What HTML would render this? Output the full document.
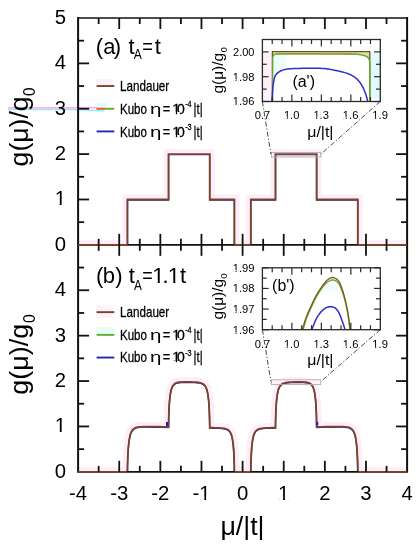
<!DOCTYPE html><html><head><meta charset="utf-8"><style>html,body{margin:0;padding:0;background:#fff;}svg{display:block;will-change:transform}text{font-family:"Liberation Sans",sans-serif;fill:#000}</style></head><body>
<svg width="420" height="550" viewBox="0 0 420 550">
<defs>
<clipPath id="ca"><rect x="78.1" y="18.0" width="329.0" height="226.85"/></clipPath>
<clipPath id="cb"><rect x="78.1" y="244.85" width="329.0" height="227.00000000000003"/></clipPath>
</defs>
<rect width="420" height="550" fill="#fff"/>
<line x1="8" y1="107.9" x2="97" y2="107.9" stroke="#ff5cf0" stroke-width="0.9"/>
<path d="M8,109.7 L78.6,109.7 L104.3,111.1" fill="none" stroke="#5ce8ea" stroke-width="0.9"/>
<rect x="96" y="79" width="17.5" height="6" fill="#fdf0f9"/>
<rect x="97" y="103" width="10" height="3.5" fill="#e2fafa"/>
<rect x="96" y="305" width="17.5" height="13" fill="#fef3fa"/>
<rect x="96" y="327" width="17.5" height="6.5" fill="#e8fbfa"/>
<g clip-path="url(#ca)">
<path d="M78.10,244.85 L127.45,244.85 L127.45,199.48 L168.57,199.48 L168.57,154.11 L209.70,154.11 L209.70,199.48 L234.38,199.48 L234.38,244.85 L250.82,244.85 L250.82,199.48 L275.50,199.48 L275.50,154.11 L316.62,154.11 L316.62,199.48 L357.75,199.48 L357.75,244.85 L407.10,244.85" fill="none" stroke="#fdeefa" stroke-width="10"/>
<path d="M78.10,244.85 L127.45,244.85 L127.45,199.48 L168.57,199.48 L168.57,154.11 L209.70,154.11 L209.70,199.48 L234.38,199.48 L234.38,244.85 L250.82,244.85 L250.82,199.48 L275.50,199.48 L275.50,154.11 L316.62,154.11 L316.62,199.48 L357.75,199.48 L357.75,244.85 L407.10,244.85 L407.1,244.85 L78.1,244.85 Z" fill="#fff"/>
<rect x="271.39" y="152.5" width="49.35" height="4.5" fill="#fdf0f9"/>
<path d="M78.10,244.85 L127.45,244.85 L127.45,199.48 L168.57,199.48 L168.57,154.11 L209.70,154.11 L209.70,199.48 L234.38,199.48 L234.38,244.85 L250.82,244.85 L250.82,199.48 L275.50,199.48 L275.50,154.11 L316.62,154.11 L316.62,199.48 L357.75,199.48 L357.75,244.85 L407.10,244.85" fill="none" stroke="#2626b0" stroke-width="1.4" transform="translate(0,0.5)"/>
<path d="M78.10,244.85 L127.45,244.85 L127.45,199.48 L168.57,199.48 L168.57,154.11 L209.70,154.11 L209.70,199.48 L234.38,199.48 L234.38,244.85 L250.82,244.85 L250.82,199.48 L275.50,199.48 L275.50,154.11 L316.62,154.11 L316.62,199.48 L357.75,199.48 L357.75,244.85 L407.10,244.85" fill="none" stroke="#7a4526" stroke-width="1.8"/>
</g>
<g clip-path="url(#cb)">
<path d="M78.10,471.85 L84.27,471.85 L90.44,471.85 L96.61,471.85 L102.78,471.85 L108.94,471.85 L115.11,471.85 L121.28,471.85 L127.45,471.85 L127.45,471.85 L127.45,471.30 L127.46,470.95 L127.46,470.40 L127.47,469.52 L127.49,468.13 L127.53,465.96 L127.57,464.20 L127.61,462.67 L127.69,460.09 L127.77,457.91 L127.85,456.01 L127.93,454.33 L128.09,451.46 L128.25,449.05 L128.41,447.00 L128.57,445.22 L128.74,443.66 L129.06,441.05 L129.38,438.95 L129.70,437.23 L130.02,435.81 L130.34,434.61 L130.66,433.60 L131.31,432.00 L131.95,430.80 L132.59,429.90 L133.88,428.67 L135.16,427.91 L136.45,427.44 L137.73,427.13 L140.30,426.81 L142.87,426.67 L148.01,426.63 L153.15,426.68 L158.29,426.75 L163.43,426.84 L168.57,426.92 L168.57,426.92 L168.58,426.33 L168.58,425.97 L168.59,425.38 L168.60,424.45 L168.62,422.98 L168.66,420.69 L168.70,418.83 L168.74,417.24 L168.82,414.53 L168.90,412.27 L168.98,410.31 L169.06,408.58 L169.22,405.63 L169.38,403.19 L169.54,401.11 L169.70,399.33 L169.86,397.77 L170.18,395.18 L170.50,393.13 L170.82,391.47 L171.15,390.10 L171.47,388.96 L171.79,388.01 L172.43,386.52 L173.07,385.43 L173.72,384.61 L175.00,383.53 L176.29,382.89 L178.86,382.25 L184.00,381.92 L189.14,381.94 L194.28,382.10 L196.85,382.27 L199.42,382.60 L201.99,383.33 L203.27,384.01 L204.56,385.14 L205.20,385.98 L205.84,387.09 L206.49,388.60 L206.81,389.57 L207.13,390.72 L207.45,392.10 L207.77,393.77 L208.09,395.84 L208.41,398.43 L208.58,400.00 L208.74,401.79 L208.90,403.87 L209.06,406.32 L209.22,409.27 L209.30,411.00 L209.38,412.97 L209.46,415.24 L209.54,417.94 L209.58,419.54 L209.62,421.40 L209.66,423.69 L209.68,425.16 L209.69,426.09 L209.69,426.68 L209.70,427.04 L209.70,427.63 L209.70,427.63 L212.78,427.70 L215.87,427.78 L218.95,427.90 L222.04,428.12 L225.12,428.61 L226.66,429.10 L228.21,429.94 L228.98,430.59 L229.75,431.48 L230.52,432.74 L230.91,433.56 L231.29,434.55 L231.68,435.77 L232.06,437.28 L232.45,439.18 L232.64,440.33 L232.83,441.63 L233.03,443.13 L233.22,444.87 L233.41,446.92 L233.60,449.37 L233.70,450.78 L233.80,452.36 L233.89,454.14 L233.99,456.17 L234.09,458.54 L234.18,461.39 L234.23,463.09 L234.28,465.08 L234.30,466.23 L234.33,467.55 L234.35,469.15 L234.36,470.17 L234.37,470.81 L234.37,471.20 L234.38,471.85 L234.38,471.85 L236.43,471.85 L238.49,471.85 L240.54,471.85 L242.60,471.85 L244.66,471.85 L246.71,471.85 L248.77,471.85 L250.82,471.85 L250.82,471.85 L250.83,471.20 L250.83,470.81 L250.84,470.17 L250.85,469.15 L250.87,467.55 L250.90,466.23 L250.92,465.08 L250.97,463.09 L251.02,461.39 L251.11,458.54 L251.21,456.17 L251.31,454.14 L251.40,452.36 L251.50,450.78 L251.60,449.37 L251.79,446.92 L251.98,444.87 L252.17,443.13 L252.37,441.63 L252.56,440.33 L252.75,439.18 L253.14,437.28 L253.52,435.77 L253.91,434.55 L254.29,433.56 L254.68,432.74 L255.45,431.48 L256.22,430.59 L256.99,429.94 L258.54,429.10 L260.08,428.61 L263.16,428.12 L266.25,427.90 L269.33,427.78 L272.42,427.70 L275.50,427.63 L275.50,427.63 L275.50,427.04 L275.51,426.68 L275.51,426.09 L275.52,425.16 L275.54,423.69 L275.58,421.40 L275.62,419.54 L275.66,417.94 L275.74,415.24 L275.82,412.97 L275.90,411.00 L275.98,409.27 L276.14,406.32 L276.30,403.87 L276.46,401.79 L276.62,400.00 L276.79,398.43 L277.11,395.84 L277.43,393.77 L277.75,392.10 L278.07,390.72 L278.39,389.57 L278.71,388.60 L279.36,387.09 L280.00,385.98 L280.64,385.14 L281.93,384.01 L283.21,383.33 L285.78,382.60 L288.35,382.27 L290.92,382.10 L296.06,381.94 L301.20,381.92 L306.34,382.25 L308.91,382.89 L310.20,383.53 L311.48,384.61 L312.13,385.43 L312.77,386.52 L313.41,388.01 L313.73,388.96 L314.05,390.10 L314.38,391.47 L314.70,393.13 L315.02,395.18 L315.34,397.77 L315.50,399.33 L315.66,401.11 L315.82,403.19 L315.98,405.63 L316.14,408.58 L316.22,410.31 L316.30,412.27 L316.38,414.53 L316.46,417.24 L316.50,418.83 L316.54,420.69 L316.58,422.98 L316.60,424.45 L316.61,425.38 L316.62,425.97 L316.62,426.33 L316.62,426.92 L316.62,426.92 L321.77,426.84 L326.91,426.75 L332.05,426.68 L337.19,426.63 L342.33,426.67 L344.90,426.81 L347.47,427.13 L348.75,427.44 L350.04,427.91 L351.32,428.67 L352.61,429.90 L353.25,430.80 L353.89,432.00 L354.54,433.60 L354.86,434.61 L355.18,435.81 L355.50,437.23 L355.82,438.95 L356.14,441.05 L356.46,443.66 L356.63,445.22 L356.79,447.00 L356.95,449.05 L357.11,451.46 L357.27,454.33 L357.35,456.01 L357.43,457.91 L357.51,460.09 L357.59,462.67 L357.63,464.20 L357.67,465.96 L357.71,468.13 L357.73,469.52 L357.74,470.40 L357.74,470.95 L357.75,471.30 L357.75,471.85 L357.75,471.85 L363.92,471.85 L370.09,471.85 L376.26,471.85 L382.42,471.85 L388.59,471.85 L394.76,471.85 L400.93,471.85 L407.10,471.85" fill="none" stroke="#fdeefa" stroke-width="10"/>
<path d="M78.10,471.85 L84.27,471.85 L90.44,471.85 L96.61,471.85 L102.78,471.85 L108.94,471.85 L115.11,471.85 L121.28,471.85 L127.45,471.85 L127.45,471.85 L127.45,471.30 L127.46,470.95 L127.46,470.40 L127.47,469.52 L127.49,468.13 L127.53,465.96 L127.57,464.20 L127.61,462.67 L127.69,460.09 L127.77,457.91 L127.85,456.01 L127.93,454.33 L128.09,451.46 L128.25,449.05 L128.41,447.00 L128.57,445.22 L128.74,443.66 L129.06,441.05 L129.38,438.95 L129.70,437.23 L130.02,435.81 L130.34,434.61 L130.66,433.60 L131.31,432.00 L131.95,430.80 L132.59,429.90 L133.88,428.67 L135.16,427.91 L136.45,427.44 L137.73,427.13 L140.30,426.81 L142.87,426.67 L148.01,426.63 L153.15,426.68 L158.29,426.75 L163.43,426.84 L168.57,426.92 L168.57,426.92 L168.58,426.33 L168.58,425.97 L168.59,425.38 L168.60,424.45 L168.62,422.98 L168.66,420.69 L168.70,418.83 L168.74,417.24 L168.82,414.53 L168.90,412.27 L168.98,410.31 L169.06,408.58 L169.22,405.63 L169.38,403.19 L169.54,401.11 L169.70,399.33 L169.86,397.77 L170.18,395.18 L170.50,393.13 L170.82,391.47 L171.15,390.10 L171.47,388.96 L171.79,388.01 L172.43,386.52 L173.07,385.43 L173.72,384.61 L175.00,383.53 L176.29,382.89 L178.86,382.25 L184.00,381.92 L189.14,381.94 L194.28,382.10 L196.85,382.27 L199.42,382.60 L201.99,383.33 L203.27,384.01 L204.56,385.14 L205.20,385.98 L205.84,387.09 L206.49,388.60 L206.81,389.57 L207.13,390.72 L207.45,392.10 L207.77,393.77 L208.09,395.84 L208.41,398.43 L208.58,400.00 L208.74,401.79 L208.90,403.87 L209.06,406.32 L209.22,409.27 L209.30,411.00 L209.38,412.97 L209.46,415.24 L209.54,417.94 L209.58,419.54 L209.62,421.40 L209.66,423.69 L209.68,425.16 L209.69,426.09 L209.69,426.68 L209.70,427.04 L209.70,427.63 L209.70,427.63 L212.78,427.70 L215.87,427.78 L218.95,427.90 L222.04,428.12 L225.12,428.61 L226.66,429.10 L228.21,429.94 L228.98,430.59 L229.75,431.48 L230.52,432.74 L230.91,433.56 L231.29,434.55 L231.68,435.77 L232.06,437.28 L232.45,439.18 L232.64,440.33 L232.83,441.63 L233.03,443.13 L233.22,444.87 L233.41,446.92 L233.60,449.37 L233.70,450.78 L233.80,452.36 L233.89,454.14 L233.99,456.17 L234.09,458.54 L234.18,461.39 L234.23,463.09 L234.28,465.08 L234.30,466.23 L234.33,467.55 L234.35,469.15 L234.36,470.17 L234.37,470.81 L234.37,471.20 L234.38,471.85 L234.38,471.85 L236.43,471.85 L238.49,471.85 L240.54,471.85 L242.60,471.85 L244.66,471.85 L246.71,471.85 L248.77,471.85 L250.82,471.85 L250.82,471.85 L250.83,471.20 L250.83,470.81 L250.84,470.17 L250.85,469.15 L250.87,467.55 L250.90,466.23 L250.92,465.08 L250.97,463.09 L251.02,461.39 L251.11,458.54 L251.21,456.17 L251.31,454.14 L251.40,452.36 L251.50,450.78 L251.60,449.37 L251.79,446.92 L251.98,444.87 L252.17,443.13 L252.37,441.63 L252.56,440.33 L252.75,439.18 L253.14,437.28 L253.52,435.77 L253.91,434.55 L254.29,433.56 L254.68,432.74 L255.45,431.48 L256.22,430.59 L256.99,429.94 L258.54,429.10 L260.08,428.61 L263.16,428.12 L266.25,427.90 L269.33,427.78 L272.42,427.70 L275.50,427.63 L275.50,427.63 L275.50,427.04 L275.51,426.68 L275.51,426.09 L275.52,425.16 L275.54,423.69 L275.58,421.40 L275.62,419.54 L275.66,417.94 L275.74,415.24 L275.82,412.97 L275.90,411.00 L275.98,409.27 L276.14,406.32 L276.30,403.87 L276.46,401.79 L276.62,400.00 L276.79,398.43 L277.11,395.84 L277.43,393.77 L277.75,392.10 L278.07,390.72 L278.39,389.57 L278.71,388.60 L279.36,387.09 L280.00,385.98 L280.64,385.14 L281.93,384.01 L283.21,383.33 L285.78,382.60 L288.35,382.27 L290.92,382.10 L296.06,381.94 L301.20,381.92 L306.34,382.25 L308.91,382.89 L310.20,383.53 L311.48,384.61 L312.13,385.43 L312.77,386.52 L313.41,388.01 L313.73,388.96 L314.05,390.10 L314.38,391.47 L314.70,393.13 L315.02,395.18 L315.34,397.77 L315.50,399.33 L315.66,401.11 L315.82,403.19 L315.98,405.63 L316.14,408.58 L316.22,410.31 L316.30,412.27 L316.38,414.53 L316.46,417.24 L316.50,418.83 L316.54,420.69 L316.58,422.98 L316.60,424.45 L316.61,425.38 L316.62,425.97 L316.62,426.33 L316.62,426.92 L316.62,426.92 L321.77,426.84 L326.91,426.75 L332.05,426.68 L337.19,426.63 L342.33,426.67 L344.90,426.81 L347.47,427.13 L348.75,427.44 L350.04,427.91 L351.32,428.67 L352.61,429.90 L353.25,430.80 L353.89,432.00 L354.54,433.60 L354.86,434.61 L355.18,435.81 L355.50,437.23 L355.82,438.95 L356.14,441.05 L356.46,443.66 L356.63,445.22 L356.79,447.00 L356.95,449.05 L357.11,451.46 L357.27,454.33 L357.35,456.01 L357.43,457.91 L357.51,460.09 L357.59,462.67 L357.63,464.20 L357.67,465.96 L357.71,468.13 L357.73,469.52 L357.74,470.40 L357.74,470.95 L357.75,471.30 L357.75,471.85 L357.75,471.85 L363.92,471.85 L370.09,471.85 L376.26,471.85 L382.42,471.85 L388.59,471.85 L394.76,471.85 L400.93,471.85 L407.10,471.85 L407.1,471.85 L78.1,471.85 Z" fill="#fff"/>
<rect x="271.39" y="379.8" width="49.35" height="4.8" fill="#fef4fa"/>
<path d="M78.10,471.85 L84.27,471.85 L90.44,471.85 L96.61,471.85 L102.78,471.85 L108.94,471.85 L115.11,471.85 L121.28,471.85 L127.45,471.85 L127.45,471.85 L127.45,471.30 L127.46,470.95 L127.46,470.40 L127.47,469.52 L127.49,468.13 L127.53,465.96 L127.57,464.20 L127.61,462.67 L127.69,460.09 L127.77,457.91 L127.85,456.01 L127.93,454.33 L128.09,451.46 L128.25,449.05 L128.41,447.00 L128.57,445.22 L128.74,443.66 L129.06,441.05 L129.38,438.95 L129.70,437.23 L130.02,435.81 L130.34,434.61 L130.66,433.60 L131.31,432.00 L131.95,430.80 L132.59,429.90 L133.88,428.67 L135.16,427.91 L136.45,427.44 L137.73,427.13 L140.30,426.81 L142.87,426.67 L148.01,426.63 L153.15,426.68 L158.29,426.75 L163.43,426.84 L168.57,426.92 L168.57,426.92 L168.58,426.33 L168.58,425.97 L168.59,425.38 L168.60,424.45 L168.62,422.98 L168.66,420.69 L168.70,418.83 L168.74,417.24 L168.82,414.53 L168.90,412.27 L168.98,410.31 L169.06,408.58 L169.22,405.63 L169.38,403.19 L169.54,401.11 L169.70,399.33 L169.86,397.77 L170.18,395.18 L170.50,393.13 L170.82,391.47 L171.15,390.10 L171.47,388.96 L171.79,388.01 L172.43,386.52 L173.07,385.43 L173.72,384.61 L175.00,383.53 L176.29,382.89 L178.86,382.25 L184.00,381.92 L189.14,381.94 L194.28,382.10 L196.85,382.27 L199.42,382.60 L201.99,383.33 L203.27,384.01 L204.56,385.14 L205.20,385.98 L205.84,387.09 L206.49,388.60 L206.81,389.57 L207.13,390.72 L207.45,392.10 L207.77,393.77 L208.09,395.84 L208.41,398.43 L208.58,400.00 L208.74,401.79 L208.90,403.87 L209.06,406.32 L209.22,409.27 L209.30,411.00 L209.38,412.97 L209.46,415.24 L209.54,417.94 L209.58,419.54 L209.62,421.40 L209.66,423.69 L209.68,425.16 L209.69,426.09 L209.69,426.68 L209.70,427.04 L209.70,427.63 L209.70,427.63 L212.78,427.70 L215.87,427.78 L218.95,427.90 L222.04,428.12 L225.12,428.61 L226.66,429.10 L228.21,429.94 L228.98,430.59 L229.75,431.48 L230.52,432.74 L230.91,433.56 L231.29,434.55 L231.68,435.77 L232.06,437.28 L232.45,439.18 L232.64,440.33 L232.83,441.63 L233.03,443.13 L233.22,444.87 L233.41,446.92 L233.60,449.37 L233.70,450.78 L233.80,452.36 L233.89,454.14 L233.99,456.17 L234.09,458.54 L234.18,461.39 L234.23,463.09 L234.28,465.08 L234.30,466.23 L234.33,467.55 L234.35,469.15 L234.36,470.17 L234.37,470.81 L234.37,471.20 L234.38,471.85 L234.38,471.85 L236.43,471.85 L238.49,471.85 L240.54,471.85 L242.60,471.85 L244.66,471.85 L246.71,471.85 L248.77,471.85 L250.82,471.85 L250.82,471.85 L250.83,471.20 L250.83,470.81 L250.84,470.17 L250.85,469.15 L250.87,467.55 L250.90,466.23 L250.92,465.08 L250.97,463.09 L251.02,461.39 L251.11,458.54 L251.21,456.17 L251.31,454.14 L251.40,452.36 L251.50,450.78 L251.60,449.37 L251.79,446.92 L251.98,444.87 L252.17,443.13 L252.37,441.63 L252.56,440.33 L252.75,439.18 L253.14,437.28 L253.52,435.77 L253.91,434.55 L254.29,433.56 L254.68,432.74 L255.45,431.48 L256.22,430.59 L256.99,429.94 L258.54,429.10 L260.08,428.61 L263.16,428.12 L266.25,427.90 L269.33,427.78 L272.42,427.70 L275.50,427.63 L275.50,427.63 L275.50,427.04 L275.51,426.68 L275.51,426.09 L275.52,425.16 L275.54,423.69 L275.58,421.40 L275.62,419.54 L275.66,417.94 L275.74,415.24 L275.82,412.97 L275.90,411.00 L275.98,409.27 L276.14,406.32 L276.30,403.87 L276.46,401.79 L276.62,400.00 L276.79,398.43 L277.11,395.84 L277.43,393.77 L277.75,392.10 L278.07,390.72 L278.39,389.57 L278.71,388.60 L279.36,387.09 L280.00,385.98 L280.64,385.14 L281.93,384.01 L283.21,383.33 L285.78,382.60 L288.35,382.27 L290.92,382.10 L296.06,381.94 L301.20,381.92 L306.34,382.25 L308.91,382.89 L310.20,383.53 L311.48,384.61 L312.13,385.43 L312.77,386.52 L313.41,388.01 L313.73,388.96 L314.05,390.10 L314.38,391.47 L314.70,393.13 L315.02,395.18 L315.34,397.77 L315.50,399.33 L315.66,401.11 L315.82,403.19 L315.98,405.63 L316.14,408.58 L316.22,410.31 L316.30,412.27 L316.38,414.53 L316.46,417.24 L316.50,418.83 L316.54,420.69 L316.58,422.98 L316.60,424.45 L316.61,425.38 L316.62,425.97 L316.62,426.33 L316.62,426.92 L316.62,426.92 L321.77,426.84 L326.91,426.75 L332.05,426.68 L337.19,426.63 L342.33,426.67 L344.90,426.81 L347.47,427.13 L348.75,427.44 L350.04,427.91 L351.32,428.67 L352.61,429.90 L353.25,430.80 L353.89,432.00 L354.54,433.60 L354.86,434.61 L355.18,435.81 L355.50,437.23 L355.82,438.95 L356.14,441.05 L356.46,443.66 L356.63,445.22 L356.79,447.00 L356.95,449.05 L357.11,451.46 L357.27,454.33 L357.35,456.01 L357.43,457.91 L357.51,460.09 L357.59,462.67 L357.63,464.20 L357.67,465.96 L357.71,468.13 L357.73,469.52 L357.74,470.40 L357.74,470.95 L357.75,471.30 L357.75,471.85 L357.75,471.85 L363.92,471.85 L370.09,471.85 L376.26,471.85 L382.42,471.85 L388.59,471.85 L394.76,471.85 L400.93,471.85 L407.10,471.85" fill="none" stroke="#2626b0" stroke-width="1.4" transform="translate(0,0.5)"/>
<path d="M78.10,471.85 L84.27,471.85 L90.44,471.85 L96.61,471.85 L102.78,471.85 L108.94,471.85 L115.11,471.85 L121.28,471.85 L127.45,471.85 L127.45,471.85 L127.45,471.30 L127.46,470.95 L127.46,470.40 L127.47,469.52 L127.49,468.13 L127.53,465.96 L127.57,464.20 L127.61,462.67 L127.69,460.09 L127.77,457.91 L127.85,456.01 L127.93,454.33 L128.09,451.46 L128.25,449.05 L128.41,447.00 L128.57,445.22 L128.74,443.66 L129.06,441.05 L129.38,438.95 L129.70,437.23 L130.02,435.81 L130.34,434.61 L130.66,433.60 L131.31,432.00 L131.95,430.80 L132.59,429.90 L133.88,428.67 L135.16,427.91 L136.45,427.44 L137.73,427.13 L140.30,426.81 L142.87,426.67 L148.01,426.63 L153.15,426.68 L158.29,426.75 L163.43,426.84 L168.57,426.92 L168.57,426.92 L168.58,426.33 L168.58,425.97 L168.59,425.38 L168.60,424.45 L168.62,422.98 L168.66,420.69 L168.70,418.83 L168.74,417.24 L168.82,414.53 L168.90,412.27 L168.98,410.31 L169.06,408.58 L169.22,405.63 L169.38,403.19 L169.54,401.11 L169.70,399.33 L169.86,397.77 L170.18,395.18 L170.50,393.13 L170.82,391.47 L171.15,390.10 L171.47,388.96 L171.79,388.01 L172.43,386.52 L173.07,385.43 L173.72,384.61 L175.00,383.53 L176.29,382.89 L178.86,382.25 L184.00,381.92 L189.14,381.94 L194.28,382.10 L196.85,382.27 L199.42,382.60 L201.99,383.33 L203.27,384.01 L204.56,385.14 L205.20,385.98 L205.84,387.09 L206.49,388.60 L206.81,389.57 L207.13,390.72 L207.45,392.10 L207.77,393.77 L208.09,395.84 L208.41,398.43 L208.58,400.00 L208.74,401.79 L208.90,403.87 L209.06,406.32 L209.22,409.27 L209.30,411.00 L209.38,412.97 L209.46,415.24 L209.54,417.94 L209.58,419.54 L209.62,421.40 L209.66,423.69 L209.68,425.16 L209.69,426.09 L209.69,426.68 L209.70,427.04 L209.70,427.63 L209.70,427.63 L212.78,427.70 L215.87,427.78 L218.95,427.90 L222.04,428.12 L225.12,428.61 L226.66,429.10 L228.21,429.94 L228.98,430.59 L229.75,431.48 L230.52,432.74 L230.91,433.56 L231.29,434.55 L231.68,435.77 L232.06,437.28 L232.45,439.18 L232.64,440.33 L232.83,441.63 L233.03,443.13 L233.22,444.87 L233.41,446.92 L233.60,449.37 L233.70,450.78 L233.80,452.36 L233.89,454.14 L233.99,456.17 L234.09,458.54 L234.18,461.39 L234.23,463.09 L234.28,465.08 L234.30,466.23 L234.33,467.55 L234.35,469.15 L234.36,470.17 L234.37,470.81 L234.37,471.20 L234.38,471.85 L234.38,471.85 L236.43,471.85 L238.49,471.85 L240.54,471.85 L242.60,471.85 L244.66,471.85 L246.71,471.85 L248.77,471.85 L250.82,471.85 L250.82,471.85 L250.83,471.20 L250.83,470.81 L250.84,470.17 L250.85,469.15 L250.87,467.55 L250.90,466.23 L250.92,465.08 L250.97,463.09 L251.02,461.39 L251.11,458.54 L251.21,456.17 L251.31,454.14 L251.40,452.36 L251.50,450.78 L251.60,449.37 L251.79,446.92 L251.98,444.87 L252.17,443.13 L252.37,441.63 L252.56,440.33 L252.75,439.18 L253.14,437.28 L253.52,435.77 L253.91,434.55 L254.29,433.56 L254.68,432.74 L255.45,431.48 L256.22,430.59 L256.99,429.94 L258.54,429.10 L260.08,428.61 L263.16,428.12 L266.25,427.90 L269.33,427.78 L272.42,427.70 L275.50,427.63 L275.50,427.63 L275.50,427.04 L275.51,426.68 L275.51,426.09 L275.52,425.16 L275.54,423.69 L275.58,421.40 L275.62,419.54 L275.66,417.94 L275.74,415.24 L275.82,412.97 L275.90,411.00 L275.98,409.27 L276.14,406.32 L276.30,403.87 L276.46,401.79 L276.62,400.00 L276.79,398.43 L277.11,395.84 L277.43,393.77 L277.75,392.10 L278.07,390.72 L278.39,389.57 L278.71,388.60 L279.36,387.09 L280.00,385.98 L280.64,385.14 L281.93,384.01 L283.21,383.33 L285.78,382.60 L288.35,382.27 L290.92,382.10 L296.06,381.94 L301.20,381.92 L306.34,382.25 L308.91,382.89 L310.20,383.53 L311.48,384.61 L312.13,385.43 L312.77,386.52 L313.41,388.01 L313.73,388.96 L314.05,390.10 L314.38,391.47 L314.70,393.13 L315.02,395.18 L315.34,397.77 L315.50,399.33 L315.66,401.11 L315.82,403.19 L315.98,405.63 L316.14,408.58 L316.22,410.31 L316.30,412.27 L316.38,414.53 L316.46,417.24 L316.50,418.83 L316.54,420.69 L316.58,422.98 L316.60,424.45 L316.61,425.38 L316.62,425.97 L316.62,426.33 L316.62,426.92 L316.62,426.92 L321.77,426.84 L326.91,426.75 L332.05,426.68 L337.19,426.63 L342.33,426.67 L344.90,426.81 L347.47,427.13 L348.75,427.44 L350.04,427.91 L351.32,428.67 L352.61,429.90 L353.25,430.80 L353.89,432.00 L354.54,433.60 L354.86,434.61 L355.18,435.81 L355.50,437.23 L355.82,438.95 L356.14,441.05 L356.46,443.66 L356.63,445.22 L356.79,447.00 L356.95,449.05 L357.11,451.46 L357.27,454.33 L357.35,456.01 L357.43,457.91 L357.51,460.09 L357.59,462.67 L357.63,464.20 L357.67,465.96 L357.71,468.13 L357.73,469.52 L357.74,470.40 L357.74,470.95 L357.75,471.30 L357.75,471.85 L357.75,471.85 L363.92,471.85 L370.09,471.85 L376.26,471.85 L382.42,471.85 L388.59,471.85 L394.76,471.85 L400.93,471.85 L407.10,471.85" fill="none" stroke="#7a4526" stroke-width="1.8"/>
</g>
<rect x="166.0" y="422.0" width="2.1" height="4" fill="#3a18b8"/>
<rect x="316.2" y="421.8" width="2.1" height="3.6" fill="#3a18a8"/>
<g stroke="#111" fill="none">
<line x1="78.1" y1="17.1" x2="78.1" y2="472.65000000000003" stroke-width="2"/>
<line x1="407.1" y1="17.1" x2="407.1" y2="472.65000000000003" stroke-width="2"/>
<line x1="78.1" y1="18.0" x2="407.1" y2="18.0" stroke-width="1.6"/>
<line x1="78.1" y1="471.85" x2="407.1" y2="471.85" stroke-width="1.7"/>
<line x1="78.1" y1="244.85" x2="407.1" y2="244.85" stroke-width="1.8"/>
</g>
<line x1="78.10" y1="244.85" x2="127.45" y2="244.85" stroke="#7a4526" stroke-width="1.8"/>
<line x1="234.38" y1="244.85" x2="250.82" y2="244.85" stroke="#7a4526" stroke-width="1.8"/>
<line x1="357.75" y1="244.85" x2="407.10" y2="244.85" stroke="#7a4526" stroke-width="1.8"/>
<line x1="78.10" y1="471.85" x2="126.79" y2="471.85" stroke="#7a4526" stroke-width="1.7"/>
<line x1="234.79" y1="471.85" x2="250.41" y2="471.85" stroke="#7a4526" stroke-width="1.7"/>
<line x1="358.41" y1="471.85" x2="407.10" y2="471.85" stroke="#7a4526" stroke-width="1.7"/>
<g stroke="#111" stroke-width="1.8">
<line x1="98.66" y1="18.0" x2="98.66" y2="24.0"/>
<line x1="98.66" y1="238.85" x2="98.66" y2="250.85"/>
<line x1="98.66" y1="471.85" x2="98.66" y2="465.85"/>
<line x1="119.22" y1="18.0" x2="119.22" y2="29.0"/>
<line x1="119.22" y1="233.85" x2="119.22" y2="255.85"/>
<line x1="119.22" y1="471.85" x2="119.22" y2="460.85"/>
<line x1="139.79" y1="18.0" x2="139.79" y2="24.0"/>
<line x1="139.79" y1="238.85" x2="139.79" y2="250.85"/>
<line x1="139.79" y1="471.85" x2="139.79" y2="465.85"/>
<line x1="160.35" y1="18.0" x2="160.35" y2="29.0"/>
<line x1="160.35" y1="233.85" x2="160.35" y2="255.85"/>
<line x1="160.35" y1="471.85" x2="160.35" y2="460.85"/>
<line x1="180.91" y1="18.0" x2="180.91" y2="24.0"/>
<line x1="180.91" y1="238.85" x2="180.91" y2="250.85"/>
<line x1="180.91" y1="471.85" x2="180.91" y2="465.85"/>
<line x1="201.47" y1="18.0" x2="201.47" y2="29.0"/>
<line x1="201.47" y1="233.85" x2="201.47" y2="255.85"/>
<line x1="201.47" y1="471.85" x2="201.47" y2="460.85"/>
<line x1="222.04" y1="18.0" x2="222.04" y2="24.0"/>
<line x1="222.04" y1="238.85" x2="222.04" y2="250.85"/>
<line x1="222.04" y1="471.85" x2="222.04" y2="465.85"/>
<line x1="242.60" y1="18.0" x2="242.60" y2="29.0"/>
<line x1="242.60" y1="233.85" x2="242.60" y2="255.85"/>
<line x1="242.60" y1="471.85" x2="242.60" y2="460.85"/>
<line x1="263.16" y1="18.0" x2="263.16" y2="24.0"/>
<line x1="263.16" y1="238.85" x2="263.16" y2="250.85"/>
<line x1="263.16" y1="471.85" x2="263.16" y2="465.85"/>
<line x1="283.73" y1="18.0" x2="283.73" y2="29.0"/>
<line x1="283.73" y1="233.85" x2="283.73" y2="255.85"/>
<line x1="283.73" y1="471.85" x2="283.73" y2="460.85"/>
<line x1="304.29" y1="18.0" x2="304.29" y2="24.0"/>
<line x1="304.29" y1="238.85" x2="304.29" y2="250.85"/>
<line x1="304.29" y1="471.85" x2="304.29" y2="465.85"/>
<line x1="324.85" y1="18.0" x2="324.85" y2="29.0"/>
<line x1="324.85" y1="233.85" x2="324.85" y2="255.85"/>
<line x1="324.85" y1="471.85" x2="324.85" y2="460.85"/>
<line x1="345.41" y1="18.0" x2="345.41" y2="24.0"/>
<line x1="345.41" y1="238.85" x2="345.41" y2="250.85"/>
<line x1="345.41" y1="471.85" x2="345.41" y2="465.85"/>
<line x1="365.98" y1="18.0" x2="365.98" y2="29.0"/>
<line x1="365.98" y1="233.85" x2="365.98" y2="255.85"/>
<line x1="365.98" y1="471.85" x2="365.98" y2="460.85"/>
<line x1="386.54" y1="18.0" x2="386.54" y2="24.0"/>
<line x1="386.54" y1="238.85" x2="386.54" y2="250.85"/>
<line x1="386.54" y1="471.85" x2="386.54" y2="465.85"/>
<line x1="78.1" y1="222.16" x2="84.1" y2="222.16"/>
<line x1="407.1" y1="222.16" x2="401.1" y2="222.16"/>
<line x1="78.1" y1="449.15" x2="84.1" y2="449.15"/>
<line x1="407.1" y1="449.15" x2="401.1" y2="449.15"/>
<line x1="78.1" y1="199.48" x2="89.1" y2="199.48"/>
<line x1="407.1" y1="199.48" x2="396.1" y2="199.48"/>
<line x1="78.1" y1="426.45" x2="89.1" y2="426.45"/>
<line x1="407.1" y1="426.45" x2="396.1" y2="426.45"/>
<line x1="78.1" y1="176.80" x2="84.1" y2="176.80"/>
<line x1="407.1" y1="176.80" x2="401.1" y2="176.80"/>
<line x1="78.1" y1="403.75" x2="84.1" y2="403.75"/>
<line x1="407.1" y1="403.75" x2="401.1" y2="403.75"/>
<line x1="78.1" y1="154.11" x2="89.1" y2="154.11"/>
<line x1="407.1" y1="154.11" x2="396.1" y2="154.11"/>
<line x1="78.1" y1="381.05" x2="89.1" y2="381.05"/>
<line x1="407.1" y1="381.05" x2="396.1" y2="381.05"/>
<line x1="78.1" y1="131.43" x2="84.1" y2="131.43"/>
<line x1="407.1" y1="131.43" x2="401.1" y2="131.43"/>
<line x1="78.1" y1="358.35" x2="84.1" y2="358.35"/>
<line x1="407.1" y1="358.35" x2="401.1" y2="358.35"/>
<line x1="78.1" y1="108.74" x2="89.1" y2="108.74"/>
<line x1="407.1" y1="108.74" x2="396.1" y2="108.74"/>
<line x1="78.1" y1="335.65" x2="89.1" y2="335.65"/>
<line x1="407.1" y1="335.65" x2="396.1" y2="335.65"/>
<line x1="78.1" y1="86.05" x2="84.1" y2="86.05"/>
<line x1="407.1" y1="86.05" x2="401.1" y2="86.05"/>
<line x1="78.1" y1="312.95" x2="84.1" y2="312.95"/>
<line x1="407.1" y1="312.95" x2="401.1" y2="312.95"/>
<line x1="78.1" y1="63.37" x2="89.1" y2="63.37"/>
<line x1="407.1" y1="63.37" x2="396.1" y2="63.37"/>
<line x1="78.1" y1="290.25" x2="89.1" y2="290.25"/>
<line x1="407.1" y1="290.25" x2="396.1" y2="290.25"/>
<line x1="78.1" y1="40.69" x2="84.1" y2="40.69"/>
<line x1="407.1" y1="40.69" x2="401.1" y2="40.69"/>
<line x1="78.1" y1="267.55" x2="84.1" y2="267.55"/>
<line x1="407.1" y1="267.55" x2="401.1" y2="267.55"/>
</g>
<g font-size="20.3" text-anchor="end">
<text x="66" y="250.85" font-size="20.3">0</text>
<text x="66" y="205.48" font-size="20.3">1</text>
<text x="66" y="160.11" font-size="20.3">2</text>
<text x="66" y="114.74" font-size="20.3">3</text>
<text x="66" y="69.37" font-size="20.3">4</text>
<text x="66" y="24.00" font-size="20.3">5</text>
<text x="66" y="477.85" font-size="20.3">0</text>
<text x="66" y="432.45" font-size="20.3">1</text>
<text x="66" y="387.05" font-size="20.3">2</text>
<text x="66" y="341.65" font-size="20.3">3</text>
<text x="66" y="296.25" font-size="20.3">4</text>
</g>
<g text-anchor="middle">
<text x="78.10" y="499.5" font-size="20.3">-4</text>
<text x="119.22" y="499.5" font-size="20.3">-3</text>
<text x="160.35" y="499.5" font-size="20.3">-2</text>
<text x="201.47" y="499.5" font-size="20.3">-1</text>
<text x="242.60" y="499.5" font-size="20.3">0</text>
<text x="283.73" y="499.5" font-size="20.3">1</text>
<text x="324.85" y="499.5" font-size="20.3">2</text>
<text x="365.98" y="499.5" font-size="20.3">3</text>
<text x="407.10" y="499.5" font-size="20.3">4</text>
</g>
<text x="220.40" y="534.60" font-size="25" textLength="44.19" lengthAdjust="spacingAndGlyphs">μ/|t|</text>
<text transform="rotate(-90)" x="-166.42" y="27.70" font-size="25" textLength="70.03" lengthAdjust="spacingAndGlyphs">g(μ)/g</text>
<text transform="rotate(-90)" x="-394.83" y="27.70" font-size="25" textLength="70.97" lengthAdjust="spacingAndGlyphs">g(μ)/g</text>
<text transform="rotate(-90)" x="-96.10" y="34.60" font-size="17" textLength="8.49" lengthAdjust="spacingAndGlyphs">0</text>
<text transform="rotate(-90)" x="-323.12" y="34.60" font-size="17" textLength="8.84" lengthAdjust="spacingAndGlyphs">0</text>
<text x="95.74 103.37 113.87 128.57" y="53.60" font-size="22">(a)t</text>
<text x="133.78" y="59.20" font-size="15.4" textLength="8.05" lengthAdjust="spacingAndGlyphs">A</text>
<text x="142.21" y="53.60" font-size="22" textLength="10.70" lengthAdjust="spacingAndGlyphs">=</text>
<text x="154.77" y="53.60" font-size="22">t</text>
<text x="95.94 102.78 115.27 128.77" y="283.30" font-size="22">(b)t</text>
<text x="134.08" y="289.50" font-size="15.4" textLength="7.85" lengthAdjust="spacingAndGlyphs">A</text>
<text x="142.13" y="283.30" font-size="22" textLength="10.46" lengthAdjust="spacingAndGlyphs">=</text>
<text x="152.28 162.39 167.78 180.07" y="283.30" font-size="22">1.1t</text>
<line x1="96.6" y1="86.05" x2="114.3" y2="86.05" stroke="#7a4526" stroke-width="1.9"/>
<line x1="96.6" y1="108.74" x2="114.3" y2="108.74" stroke="#58b030" stroke-width="1.9"/>
<line x1="96.6" y1="131.43" x2="114.3" y2="131.43" stroke="#2626b0" stroke-width="1.9"/>
<line x1="96.6" y1="108.74" x2="105.7" y2="108.74" stroke="#e06048" stroke-width="1.9"/>
<g stroke="#000" stroke-width="0.28">
<text x="120.05" y="91.40" font-size="14.5" textLength="49.15" lengthAdjust="spacingAndGlyphs">Landauer</text>
<text x="119.95" y="113.90" font-size="14.5" textLength="27.04" lengthAdjust="spacingAndGlyphs">Kubo</text>
</g>
<text x="149.94" y="113.90" font-size="14.9" textLength="11.39" lengthAdjust="spacingAndGlyphs">η</text>
<g stroke="#000" stroke-width="0.28">
<text x="162.78" y="113.90" font-size="14.5" textLength="7.45" lengthAdjust="spacingAndGlyphs">=</text>
<text x="172.21" y="113.90" font-size="14.5">1</text>
<text x="177.05" y="113.90" font-size="14.5" textLength="7.79" lengthAdjust="spacingAndGlyphs">0</text>
<text x="185.18" y="107.10" font-size="8.4" textLength="6.32" lengthAdjust="spacingAndGlyphs">-4</text>
<text x="193.59" y="113.90" font-size="14.5" textLength="9.02" lengthAdjust="spacingAndGlyphs">|t|</text>
<text x="119.95" y="136.50" font-size="14.5" textLength="27.04" lengthAdjust="spacingAndGlyphs">Kubo</text>
</g>
<text x="149.94" y="136.50" font-size="14.9" textLength="11.39" lengthAdjust="spacingAndGlyphs">η</text>
<g stroke="#000" stroke-width="0.28">
<text x="162.78" y="136.50" font-size="14.5" textLength="7.45" lengthAdjust="spacingAndGlyphs">=</text>
<text x="172.21" y="136.50" font-size="14.5">1</text>
<text x="177.05" y="136.50" font-size="14.5" textLength="7.79" lengthAdjust="spacingAndGlyphs">0</text>
<text x="185.18" y="129.70" font-size="8.4" textLength="6.44" lengthAdjust="spacingAndGlyphs">-3</text>
<text x="193.59" y="136.50" font-size="14.5" textLength="9.02" lengthAdjust="spacingAndGlyphs">|t|</text>
</g>
<line x1="96.6" y1="312.15" x2="114.3" y2="312.15" stroke="#7a4526" stroke-width="1.9"/>
<line x1="96.6" y1="334.85" x2="114.3" y2="334.85" stroke="#58b030" stroke-width="1.9"/>
<line x1="96.6" y1="357.55" x2="114.3" y2="357.55" stroke="#2626b0" stroke-width="1.9"/>
<g stroke="#000" stroke-width="0.28">
<text x="120.05" y="317.00" font-size="14.2" textLength="49.15" lengthAdjust="spacingAndGlyphs">Landauer</text>
<text x="119.95" y="339.70" font-size="14.2" textLength="27.04" lengthAdjust="spacingAndGlyphs">Kubo</text>
</g>
<text x="149.94" y="339.70" font-size="14.9" textLength="11.39" lengthAdjust="spacingAndGlyphs">η</text>
<g stroke="#000" stroke-width="0.28">
<text x="162.78" y="339.70" font-size="14.2" textLength="7.45" lengthAdjust="spacingAndGlyphs">=</text>
<text x="172.23" y="339.70" font-size="14.2">1</text>
<text x="177.05" y="339.70" font-size="14.2" textLength="7.79" lengthAdjust="spacingAndGlyphs">0</text>
<text x="185.18" y="332.90" font-size="8.4" textLength="6.32" lengthAdjust="spacingAndGlyphs">-4</text>
<text x="193.59" y="339.70" font-size="14.2" textLength="9.02" lengthAdjust="spacingAndGlyphs">|t|</text>
<text x="119.95" y="362.30" font-size="14.2" textLength="27.04" lengthAdjust="spacingAndGlyphs">Kubo</text>
</g>
<text x="149.94" y="362.30" font-size="14.9" textLength="11.39" lengthAdjust="spacingAndGlyphs">η</text>
<g stroke="#000" stroke-width="0.28">
<text x="162.78" y="362.30" font-size="14.2" textLength="7.45" lengthAdjust="spacingAndGlyphs">=</text>
<text x="172.23" y="362.30" font-size="14.2">1</text>
<text x="177.05" y="362.30" font-size="14.2" textLength="7.79" lengthAdjust="spacingAndGlyphs">0</text>
<text x="185.18" y="355.50" font-size="8.4" textLength="6.44" lengthAdjust="spacingAndGlyphs">-3</text>
<text x="193.59" y="362.30" font-size="14.2" textLength="9.02" lengthAdjust="spacingAndGlyphs">|t|</text>
</g>
<rect x="55.90" y="203" width="3.89" height="4" fill="#fff"/>
<rect x="61.64" y="203" width="3.73" height="4" fill="#fff"/>
<rect x="55.90" y="430" width="3.89" height="4" fill="#fff"/>
<rect x="61.64" y="430" width="3.73" height="4" fill="#fff"/>
<rect x="279.27" y="497" width="3.89" height="4" fill="#fff"/>
<rect x="285.01" y="497" width="3.73" height="4" fill="#fff"/>
<rect x="200.40" y="497" width="3.89" height="4" fill="#fff"/>
<rect x="206.14" y="497" width="3.73" height="4" fill="#fff"/>
<rect x="153.57" y="281" width="4.21" height="4" fill="#fff"/>
<rect x="159.79" y="281" width="4.04" height="4" fill="#fff"/>
<rect x="169.07" y="281" width="4.21" height="4" fill="#fff"/>
<rect x="175.29" y="281" width="4.04" height="4" fill="#fff"/>
<clipPath id="cia"><rect x="262.4" y="39.5" width="117.90" height="62.0"/></clipPath>
<g clip-path="url(#cia)">
<rect x="262.4" y="51.6" width="10" height="50" fill="#fdf0f8"/>
<rect x="370.4" y="52.5" width="10" height="46" fill="#e2fbf9"/>
<rect x="273.5" y="55" width="12" height="18" fill="#f0fcfb"/>
<path d="M272.6,51.6 L369.8,51.6 L369.8,60 L369,59 L366.5,56.5 L362,55 L355,54.2 L340,53.9 L300,53.8 L280,53.9 L275.5,54.2 L273.4,55.3 L272.7,58 Z" fill="#e2dfa8"/>
<path d="M272.4,104 L272.4,51.6 L369.8,51.6 L369.8,104" fill="none" stroke="#6e4e22" stroke-width="1.3"/>
<path d="M272.60,104.00 L272.60,102.35 L272.60,100.70 L272.60,99.06 L272.60,97.42 L272.60,95.78 L272.60,94.15 L272.60,92.52 L272.60,90.90 L272.60,89.28 L272.61,87.66 L272.61,86.05 L272.61,84.44 L272.61,82.83 L272.61,81.23 L272.62,79.63 L272.62,78.03 L272.62,76.43 L272.63,74.84 L272.63,73.25 L272.64,71.66 L272.64,70.07 L272.65,68.49 L272.65,66.91 L272.66,65.33 L272.67,63.75 L272.68,62.17 L272.68,60.60 L272.69,59.02 L272.74,57.42 L273.16,55.77 L274.09,54.71 L275.70,54.17 L277.28,54.02 L278.91,53.93 L280.52,53.89 L282.13,53.88 L283.73,53.86 L285.34,53.85 L286.94,53.84 L288.55,53.83 L290.15,53.82 L291.76,53.81 L293.37,53.81 L294.97,53.81 L296.58,53.80 L298.18,53.80 L299.79,53.80 L301.40,53.80 L303.00,53.80 L304.61,53.80 L306.21,53.80 L307.82,53.80 L309.42,53.81 L311.03,53.81 L312.63,53.81 L314.24,53.81 L315.85,53.82 L317.45,53.82 L319.06,53.82 L320.66,53.83 L322.27,53.83 L323.87,53.84 L325.48,53.84 L327.08,53.85 L328.69,53.85 L330.30,53.86 L331.90,53.86 L333.51,53.87 L335.11,53.88 L336.72,53.88 L338.32,53.89 L339.93,53.90 L341.53,53.91 L343.14,53.92 L344.75,53.94 L346.35,53.97 L347.96,54.00 L349.57,54.03 L351.17,54.08 L352.78,54.12 L354.38,54.18 L355.98,54.25 L357.59,54.38 L359.19,54.56 L360.78,54.79 L362.35,55.07 L363.94,55.46 L365.49,56.01 L366.86,56.71 L368.19,57.79 L369.03,59.09 L369.43,60.59 L369.67,62.25 L369.71,63.85 L369.72,65.44 L369.72,67.04 L369.73,68.63 L369.74,70.22 L369.75,71.82 L369.75,73.41 L369.76,75.01 L369.77,76.61 L369.77,78.21 L369.78,79.81 L369.78,81.41 L369.78,83.01 L369.79,84.61 L369.79,86.22 L369.79,87.83 L369.79,89.44 L369.79,91.05 L369.80,92.66 L369.80,94.27 L369.80,95.89 L369.80,97.51 L369.80,99.13 L369.80,100.75 L369.80,102.37 L369.80,104.00" fill="none" stroke="#5ea830" stroke-width="1.4"/>
<path d="M277,53.95 L300,53.8 L340,53.9 L358,54.4" fill="none" stroke="#8c9a3c" stroke-width="1.3"/>
<path d="M272.10,103.00 L272.10,102.12 L272.11,101.23 L272.13,100.35 L272.15,99.47 L272.18,98.58 L272.22,97.70 L272.25,96.82 L272.29,95.94 L272.34,95.06 L272.39,94.18 L272.44,93.30 L272.49,92.42 L272.54,91.54 L272.60,90.66 L272.66,89.78 L272.73,88.90 L272.81,88.02 L272.90,87.15 L273.00,86.27 L273.10,85.39 L273.22,84.51 L273.35,83.64 L273.48,82.77 L273.62,81.90 L273.76,81.03 L273.93,80.14 L274.12,79.25 L274.33,78.38 L274.56,77.53 L274.84,76.72 L275.16,75.95 L275.60,75.20 L276.14,74.48 L276.75,73.79 L277.39,73.15 L278.04,72.58 L278.73,72.05 L279.48,71.56 L280.27,71.11 L281.07,70.73 L281.87,70.42 L282.70,70.13 L283.55,69.86 L284.41,69.61 L285.28,69.40 L286.15,69.23 L287.02,69.11 L287.88,69.02 L288.75,68.93 L289.63,68.85 L290.51,68.78 L291.39,68.71 L292.27,68.65 L293.15,68.60 L294.04,68.55 L294.92,68.51 L295.81,68.47 L296.69,68.44 L297.58,68.42 L298.46,68.40 L299.34,68.39 L300.22,68.38 L301.10,68.37 L301.98,68.36 L302.87,68.35 L303.75,68.34 L304.63,68.34 L305.51,68.33 L306.39,68.32 L307.28,68.32 L308.16,68.31 L309.04,68.31 L309.92,68.30 L310.81,68.30 L311.69,68.30 L312.57,68.30 L313.45,68.30 L314.33,68.30 L315.22,68.31 L316.10,68.31 L316.98,68.32 L317.87,68.33 L318.75,68.34 L319.63,68.36 L320.51,68.37 L321.39,68.39 L322.27,68.41 L323.15,68.44 L324.02,68.50 L324.90,68.58 L325.77,68.68 L326.65,68.79 L327.52,68.92 L328.40,69.06 L329.27,69.21 L330.14,69.37 L331.01,69.54 L331.88,69.71 L332.75,69.88 L333.62,70.06 L334.49,70.24 L335.35,70.41 L336.21,70.58 L337.08,70.75 L337.94,70.93 L338.81,71.11 L339.67,71.30 L340.54,71.50 L341.40,71.71 L342.26,71.92 L343.11,72.15 L343.96,72.39 L344.81,72.63 L345.65,72.89 L346.48,73.16 L347.31,73.45 L348.14,73.75 L348.97,74.08 L349.79,74.43 L350.61,74.80 L351.41,75.19 L352.19,75.60 L352.95,76.03 L353.68,76.47 L354.40,76.96 L355.10,77.50 L355.80,78.06 L356.47,78.66 L357.12,79.27 L357.75,79.90 L358.34,80.54 L358.92,81.19 L359.48,81.87 L360.02,82.57 L360.55,83.30 L361.05,84.04 L361.52,84.78 L361.97,85.54 L362.39,86.30 L362.79,87.08 L363.17,87.88 L363.54,88.68 L363.90,89.50 L364.24,90.32 L364.57,91.14 L364.89,91.96 L365.20,92.78 L365.50,93.61 L365.80,94.44 L366.09,95.28 L366.36,96.12 L366.62,96.97 L366.85,97.82 L367.06,98.67 L367.26,99.53 L367.44,100.39 L367.61,101.25 L367.76,102.13 L367.90,103.00" fill="none" stroke="#2e2ed0" stroke-width="1.5"/>
</g>
<rect x="262.4" y="39.5" width="117.90" height="62.00" fill="none" stroke="#2a2a2a" stroke-width="1.3"/>
<g stroke="#2a2a2a" stroke-width="1.2">
<line x1="272.22" y1="39.5" x2="272.22" y2="44.0"/>
<line x1="272.22" y1="101.5" x2="272.22" y2="97.0"/>
<line x1="282.05" y1="39.5" x2="282.05" y2="44.0"/>
<line x1="282.05" y1="101.5" x2="282.05" y2="97.0"/>
<line x1="291.88" y1="39.5" x2="291.88" y2="46.5"/>
<line x1="291.88" y1="101.5" x2="291.88" y2="94.5"/>
<line x1="301.70" y1="39.5" x2="301.70" y2="44.0"/>
<line x1="301.70" y1="101.5" x2="301.70" y2="97.0"/>
<line x1="311.52" y1="39.5" x2="311.52" y2="44.0"/>
<line x1="311.52" y1="101.5" x2="311.52" y2="97.0"/>
<line x1="321.35" y1="39.5" x2="321.35" y2="46.5"/>
<line x1="321.35" y1="101.5" x2="321.35" y2="94.5"/>
<line x1="331.18" y1="39.5" x2="331.18" y2="44.0"/>
<line x1="331.18" y1="101.5" x2="331.18" y2="97.0"/>
<line x1="341.00" y1="39.5" x2="341.00" y2="44.0"/>
<line x1="341.00" y1="101.5" x2="341.00" y2="97.0"/>
<line x1="350.83" y1="39.5" x2="350.83" y2="46.5"/>
<line x1="350.83" y1="101.5" x2="350.83" y2="94.5"/>
<line x1="360.65" y1="39.5" x2="360.65" y2="44.0"/>
<line x1="360.65" y1="101.5" x2="360.65" y2="97.0"/>
<line x1="370.48" y1="39.5" x2="370.48" y2="44.0"/>
<line x1="370.48" y1="101.5" x2="370.48" y2="97.0"/>
<line x1="262.4" y1="101.50" x2="268.59999999999997" y2="101.50"/>
<line x1="380.3" y1="101.50" x2="374.1" y2="101.50"/>
<line x1="262.4" y1="76.70" x2="268.59999999999997" y2="76.70"/>
<line x1="380.3" y1="76.70" x2="374.1" y2="76.70"/>
<line x1="262.4" y1="51.90" x2="268.59999999999997" y2="51.90"/>
<line x1="380.3" y1="51.90" x2="374.1" y2="51.90"/>
<line x1="262.4" y1="89.10" x2="266.7" y2="89.10"/>
<line x1="380.3" y1="89.10" x2="376.0" y2="89.10"/>
<line x1="262.4" y1="64.30" x2="266.7" y2="64.30"/>
<line x1="380.3" y1="64.30" x2="376.0" y2="64.30"/>
</g>
<clipPath id="cib"><rect x="262.4" y="267.8" width="117.90" height="61.90"/></clipPath>
<g clip-path="url(#cib)">
<path d="M301.60,331.00 L302.04,329.85 L302.46,328.69 L302.85,327.52 L303.24,326.35 L303.61,325.17 L303.98,323.99 L304.34,322.81 L304.71,321.63 L305.09,320.46 L305.48,319.29 L305.89,318.13 L306.31,316.97 L306.75,315.83 L307.21,314.68 L307.69,313.55 L308.17,312.41 L308.67,311.28 L309.17,310.16 L309.69,309.03 L310.20,307.91 L310.73,306.79 L311.25,305.67 L311.77,304.56 L312.30,303.44 L312.82,302.32 L313.35,301.20 L313.88,300.09 L314.41,298.97 L314.96,297.86 L315.52,296.76 L316.09,295.67 L316.68,294.59 L317.29,293.53 L317.91,292.47 L318.56,291.42 L319.22,290.38 L319.91,289.35 L320.61,288.32 L321.32,287.32 L322.05,286.32 L322.79,285.34 L323.54,284.35 L324.30,283.33 L325.07,282.33 L325.88,281.37 L326.73,280.49 L327.64,279.74 L328.65,279.04 L329.76,278.33 L330.92,277.75 L332.08,277.43 L333.20,277.47 L334.40,277.84 L335.60,278.45 L336.72,279.20 L337.68,279.99 L338.43,280.77 L339.08,281.68 L339.67,282.71 L340.20,283.85 L340.70,285.05 L341.16,286.29 L341.59,287.53 L342.00,288.74 L342.41,289.90 L342.80,291.07 L343.18,292.24 L343.53,293.42 L343.88,294.60 L344.21,295.80 L344.53,296.99 L344.83,298.19 L345.13,299.39 L345.42,300.60 L345.70,301.80 L345.97,303.00 L346.24,304.20 L346.50,305.40 L346.76,306.61 L347.01,307.82 L347.25,309.03 L347.48,310.24 L347.70,311.46 L347.92,312.67 L348.13,313.89 L348.32,315.11 L348.51,316.32 L348.68,317.54 L348.85,318.76 L349.00,319.99 L349.15,321.21 L349.29,322.44 L349.44,323.66 L349.58,324.89 L349.73,326.11 L349.88,327.34 L350.04,328.56 L350.21,329.78 L350.40,331.00 L350.10,331.00 L349.92,329.83 L349.75,328.66 L349.60,327.48 L349.45,326.31 L349.31,325.13 L349.17,323.96 L349.03,322.78 L348.89,321.60 L348.74,320.43 L348.59,319.25 L348.44,318.08 L348.27,316.91 L348.09,315.74 L347.90,314.57 L347.70,313.41 L347.49,312.24 L347.28,311.08 L347.05,309.91 L346.82,308.75 L346.58,307.59 L346.33,306.43 L346.07,305.27 L345.81,304.12 L345.54,302.97 L345.26,301.82 L344.98,300.67 L344.68,299.52 L344.38,298.37 L344.07,297.22 L343.74,296.07 L343.40,294.93 L343.04,293.80 L342.67,292.68 L342.28,291.57 L341.87,290.47 L341.44,289.36 L340.99,288.19 L340.51,287.01 L340.00,285.85 L339.44,284.75 L338.83,283.74 L338.17,282.87 L337.44,282.16 L336.52,281.49 L335.43,280.86 L334.26,280.35 L333.08,280.04 L331.96,280.04 L330.82,280.33 L329.68,280.82 L328.59,281.40 L327.61,281.98 L326.70,282.68 L325.84,283.49 L325.02,284.39 L324.24,285.33 L323.47,286.27 L322.73,287.18 L321.99,288.10 L321.28,289.05 L320.59,290.02 L319.91,290.99 L319.25,291.99 L318.61,292.98 L317.99,293.99 L317.39,295.00 L316.80,296.03 L316.23,297.06 L315.68,298.11 L315.14,299.16 L314.61,300.23 L314.08,301.29 L313.57,302.36 L313.05,303.43 L312.54,304.50 L312.03,305.57 L311.53,306.64 L311.02,307.71 L310.51,308.78 L310.02,309.86 L309.52,310.94 L309.04,312.02 L308.57,313.11 L308.11,314.20 L307.66,315.29 L307.23,316.39 L306.82,317.50 L306.42,318.61 L306.05,319.73 L305.69,320.86 L305.34,321.99 L305.00,323.13 L304.65,324.26 L304.31,325.40 L303.96,326.53 L303.60,327.66 L303.22,328.78 L302.83,329.90 L302.40,331.00 Z" fill="#eeeec0"/>
<ellipse cx="331" cy="287" rx="9" ry="4" fill="#effcfb"/>
<path d="M302.40,331.00 L302.76,330.08 L303.09,329.16 L303.41,328.22 L303.72,327.29 L304.02,326.35 L304.31,325.41 L304.59,324.46 L304.88,323.52 L305.16,322.57 L305.45,321.63 L305.74,320.69 L306.04,319.75 L306.35,318.82 L306.68,317.89 L307.01,316.97 L307.36,316.05 L307.72,315.14 L308.10,314.23 L308.48,313.32 L308.87,312.41 L309.27,311.51 L309.67,310.61 L310.08,309.71 L310.50,308.82 L310.92,307.92 L311.34,307.03 L311.76,306.14 L312.18,305.25 L312.61,304.36 L313.03,303.48 L313.46,302.59 L313.89,301.70 L314.32,300.81 L314.76,299.92 L315.20,299.04 L315.65,298.16 L316.11,297.29 L316.58,296.42 L317.06,295.57 L317.55,294.72 L318.05,293.88 L318.57,293.04 L319.10,292.21 L319.65,291.38 L320.20,290.56 L320.77,289.75 L321.35,288.95 L321.95,288.17 L322.55,287.39 L323.17,286.64 L323.80,285.87 L324.44,285.09 L325.10,284.31 L325.78,283.56 L326.49,282.87 L327.23,282.25 L328.01,281.74 L328.86,281.25 L329.77,280.77 L330.72,280.36 L331.68,280.09 L332.61,280.00 L333.56,280.14 L334.55,280.45 L335.52,280.90 L336.43,281.43 L337.22,281.99 L337.87,282.55 L338.45,283.20 L338.98,283.97 L339.48,284.82 L339.94,285.74 L340.38,286.70 L340.78,287.68 L341.17,288.66 L341.54,289.62 L341.89,290.54 L342.23,291.45 L342.56,292.37 L342.88,293.30 L343.18,294.24 L343.47,295.18 L343.76,296.13 L344.03,297.08 L344.29,298.04 L344.55,299.00 L344.79,299.95 L345.04,300.91 L345.27,301.87 L345.50,302.82 L345.73,303.78 L345.95,304.74 L346.17,305.70 L346.38,306.66 L346.58,307.63 L346.79,308.59 L346.98,309.56 L347.17,310.53 L347.36,311.50 L347.53,312.47 L347.71,313.44 L347.87,314.41 L348.03,315.38 L348.19,316.35 L348.33,317.32 L348.47,318.30 L348.60,319.27 L348.72,320.25 L348.84,321.23 L348.96,322.21 L349.08,323.18 L349.19,324.16 L349.31,325.14 L349.43,326.12 L349.55,327.10 L349.68,328.08 L349.81,329.05 L349.95,330.03 L350.10,331.00" fill="none" stroke="#6aa830" stroke-width="1.4"/>
<path d="M301.60,331.00 L301.97,330.04 L302.32,329.08 L302.66,328.11 L302.98,327.14 L303.30,326.16 L303.61,325.18 L303.91,324.20 L304.22,323.22 L304.52,322.24 L304.83,321.26 L305.15,320.28 L305.47,319.31 L305.81,318.34 L306.16,317.38 L306.52,316.42 L306.90,315.47 L307.28,314.52 L307.67,313.58 L308.08,312.63 L308.49,311.69 L308.91,310.75 L309.33,309.82 L309.76,308.88 L310.19,307.95 L310.62,307.02 L311.06,306.09 L311.49,305.16 L311.93,304.23 L312.36,303.30 L312.80,302.37 L313.23,301.44 L313.68,300.51 L314.12,299.58 L314.57,298.66 L315.03,297.73 L315.49,296.82 L315.97,295.91 L316.45,295.01 L316.95,294.12 L317.46,293.23 L317.98,292.35 L318.52,291.48 L319.07,290.61 L319.63,289.75 L320.21,288.90 L320.80,288.05 L321.40,287.22 L322.00,286.39 L322.62,285.57 L323.24,284.75 L323.86,283.92 L324.50,283.07 L325.15,282.24 L325.82,281.44 L326.52,280.70 L327.26,280.03 L328.05,279.45 L328.92,278.86 L329.86,278.28 L330.83,277.79 L331.79,277.48 L332.72,277.41 L333.69,277.59 L334.70,277.97 L335.69,278.50 L336.62,279.12 L337.45,279.78 L338.13,280.43 L338.70,281.12 L339.22,281.91 L339.71,282.79 L340.15,283.73 L340.57,284.73 L340.96,285.75 L341.33,286.78 L341.68,287.81 L342.03,288.81 L342.37,289.78 L342.69,290.74 L343.01,291.71 L343.32,292.69 L343.61,293.68 L343.89,294.66 L344.17,295.66 L344.44,296.65 L344.69,297.65 L344.95,298.65 L345.19,299.65 L345.43,300.65 L345.66,301.64 L345.89,302.64 L346.12,303.64 L346.34,304.64 L346.56,305.65 L346.77,306.65 L346.97,307.66 L347.17,308.66 L347.37,309.67 L347.56,310.68 L347.75,311.69 L347.92,312.70 L348.10,313.72 L348.26,314.73 L348.42,315.74 L348.57,316.75 L348.71,317.77 L348.85,318.78 L348.98,319.80 L349.10,320.82 L349.22,321.84 L349.34,322.86 L349.46,323.88 L349.58,324.90 L349.71,325.92 L349.83,326.94 L349.96,327.95 L350.10,328.97 L350.24,329.99 L350.40,331.00" fill="none" stroke="#7a5a26" stroke-width="1.3"/>
<path d="M311.30,331.00 L311.53,330.41 L311.75,329.81 L311.99,329.22 L312.22,328.63 L312.45,328.03 L312.69,327.44 L312.92,326.84 L313.15,326.24 L313.38,325.64 L313.61,325.03 L313.84,324.44 L314.08,323.84 L314.32,323.24 L314.56,322.65 L314.81,322.06 L315.06,321.47 L315.31,320.89 L315.58,320.31 L315.84,319.74 L316.12,319.18 L316.40,318.62 L316.70,318.07 L317.00,317.52 L317.31,316.99 L317.63,316.46 L317.97,315.92 L318.32,315.40 L318.69,314.87 L319.07,314.35 L319.46,313.83 L319.86,313.32 L320.27,312.82 L320.69,312.33 L321.12,311.86 L321.56,311.39 L322.01,310.94 L322.46,310.50 L322.92,310.08 L323.39,309.67 L323.88,309.24 L324.39,308.83 L324.92,308.44 L325.46,308.09 L326.01,307.80 L326.58,307.57 L327.16,307.38 L327.77,307.18 L328.40,307.01 L329.03,306.85 L329.67,306.73 L330.31,306.64 L330.93,306.60 L331.55,306.63 L332.19,306.74 L332.83,306.91 L333.45,307.14 L334.04,307.38 L334.58,307.64 L335.08,307.94 L335.58,308.33 L336.05,308.76 L336.51,309.25 L336.94,309.77 L337.35,310.30 L337.72,310.83 L338.07,311.35 L338.39,311.87 L338.70,312.40 L338.99,312.95 L339.27,313.51 L339.54,314.08 L339.79,314.66 L340.04,315.25 L340.28,315.85 L340.52,316.45 L340.75,317.06 L340.97,317.66 L341.19,318.28 L341.41,318.89 L341.62,319.50 L341.84,320.10 L342.06,320.70 L342.27,321.30 L342.49,321.90 L342.71,322.49 L342.92,323.09 L343.13,323.69 L343.34,324.29 L343.55,324.89 L343.75,325.50 L343.95,326.10 L344.14,326.71 L344.33,327.32 L344.51,327.93 L344.68,328.54 L344.85,329.15 L345.02,329.76 L345.16,330.38 L345.30,331.00" fill="none" stroke="#2e2ed0" stroke-width="1.5"/>
</g>
<rect x="262.4" y="267.8" width="117.90" height="61.90" fill="none" stroke="#2a2a2a" stroke-width="1.3"/>
<g stroke="#2a2a2a" stroke-width="1.2">
<line x1="272.22" y1="267.8" x2="272.22" y2="272.3"/>
<line x1="272.22" y1="329.7" x2="272.22" y2="325.2"/>
<line x1="282.05" y1="267.8" x2="282.05" y2="272.3"/>
<line x1="282.05" y1="329.7" x2="282.05" y2="325.2"/>
<line x1="291.88" y1="267.8" x2="291.88" y2="274.8"/>
<line x1="291.88" y1="329.7" x2="291.88" y2="322.7"/>
<line x1="301.70" y1="267.8" x2="301.70" y2="272.3"/>
<line x1="301.70" y1="329.7" x2="301.70" y2="325.2"/>
<line x1="311.52" y1="267.8" x2="311.52" y2="272.3"/>
<line x1="311.52" y1="329.7" x2="311.52" y2="325.2"/>
<line x1="321.35" y1="267.8" x2="321.35" y2="274.8"/>
<line x1="321.35" y1="329.7" x2="321.35" y2="322.7"/>
<line x1="331.18" y1="267.8" x2="331.18" y2="272.3"/>
<line x1="331.18" y1="329.7" x2="331.18" y2="325.2"/>
<line x1="341.00" y1="267.8" x2="341.00" y2="272.3"/>
<line x1="341.00" y1="329.7" x2="341.00" y2="325.2"/>
<line x1="350.83" y1="267.8" x2="350.83" y2="274.8"/>
<line x1="350.83" y1="329.7" x2="350.83" y2="322.7"/>
<line x1="360.65" y1="267.8" x2="360.65" y2="272.3"/>
<line x1="360.65" y1="329.7" x2="360.65" y2="325.2"/>
<line x1="370.48" y1="267.8" x2="370.48" y2="272.3"/>
<line x1="370.48" y1="329.7" x2="370.48" y2="325.2"/>
<line x1="262.4" y1="329.70" x2="268.59999999999997" y2="329.70"/>
<line x1="380.3" y1="329.70" x2="374.1" y2="329.70"/>
<line x1="262.4" y1="309.07" x2="268.59999999999997" y2="309.07"/>
<line x1="380.3" y1="309.07" x2="374.1" y2="309.07"/>
<line x1="262.4" y1="288.43" x2="268.59999999999997" y2="288.43"/>
<line x1="380.3" y1="288.43" x2="374.1" y2="288.43"/>
<line x1="262.4" y1="267.80" x2="268.59999999999997" y2="267.80"/>
<line x1="380.3" y1="267.80" x2="374.1" y2="267.80"/>
<line x1="262.4" y1="319.38" x2="266.7" y2="319.38"/>
<line x1="380.3" y1="319.38" x2="376.0" y2="319.38"/>
<line x1="262.4" y1="298.75" x2="266.7" y2="298.75"/>
<line x1="380.3" y1="298.75" x2="376.0" y2="298.75"/>
<line x1="262.4" y1="278.12" x2="266.7" y2="278.12"/>
<line x1="380.3" y1="278.12" x2="376.0" y2="278.12"/>
</g>
<rect x="271.39" y="152.50" width="49.35" height="4.50" fill="none" stroke="#b4aab4" stroke-width="0.9"/>
<line x1="262.4" y1="101.5" x2="270.89" y2="154.00" stroke="#333" stroke-width="0.9" stroke-dasharray="5,2,1.2,2"/>
<line x1="380.3" y1="101.5" x2="321.04" y2="154.00" stroke="#333" stroke-width="0.9" stroke-dasharray="5,2,1.2,2"/>
<rect x="271.39" y="379.80" width="49.35" height="4.80" fill="none" stroke="#b4aab4" stroke-width="0.9"/>
<line x1="262.4" y1="329.7" x2="270.89" y2="381.30" stroke="#333" stroke-width="0.9" stroke-dasharray="5,2,1.2,2"/>
<line x1="380.3" y1="329.7" x2="321.04" y2="381.30" stroke="#333" stroke-width="0.9" stroke-dasharray="5,2,1.2,2"/>
<text x="233.05" y="55.70" font-size="11.2" textLength="21.38" lengthAdjust="spacingAndGlyphs">2.00</text>
<text x="232.75" y="80.50" font-size="11.2" textLength="21.74" lengthAdjust="spacingAndGlyphs">1.98</text>
<text x="232.75" y="105.30" font-size="11.2" textLength="21.74" lengthAdjust="spacingAndGlyphs">1.96</text>
<text x="232.75" y="271.60" font-size="11.2" textLength="21.78" lengthAdjust="spacingAndGlyphs">1.99</text>
<text x="232.75" y="292.23" font-size="11.2" textLength="21.74" lengthAdjust="spacingAndGlyphs">1.98</text>
<text x="232.75" y="312.87" font-size="11.2" textLength="21.82" lengthAdjust="spacingAndGlyphs">1.97</text>
<text x="232.75" y="333.50" font-size="11.2" textLength="21.74" lengthAdjust="spacingAndGlyphs">1.96</text>
<text x="254.68" y="118.60" font-size="11.2" textLength="15.57" lengthAdjust="spacingAndGlyphs">0.7</text>
<text x="254.68" y="347.80" font-size="11.2" textLength="15.57" lengthAdjust="spacingAndGlyphs">0.7</text>
<text x="283.88" y="118.60" font-size="11.2" textLength="15.57" lengthAdjust="spacingAndGlyphs">1.0</text>
<text x="283.88" y="347.80" font-size="11.2" textLength="15.57" lengthAdjust="spacingAndGlyphs">1.0</text>
<text x="313.38" y="118.60" font-size="11.2" textLength="15.57" lengthAdjust="spacingAndGlyphs">1.3</text>
<text x="313.38" y="347.80" font-size="11.2" textLength="15.57" lengthAdjust="spacingAndGlyphs">1.3</text>
<text x="342.86" y="118.60" font-size="11.2" textLength="15.57" lengthAdjust="spacingAndGlyphs">1.6</text>
<text x="342.86" y="347.80" font-size="11.2" textLength="15.57" lengthAdjust="spacingAndGlyphs">1.6</text>
<text x="372.35" y="118.60" font-size="11.2" textLength="15.57" lengthAdjust="spacingAndGlyphs">1.9</text>
<text x="372.35" y="347.80" font-size="11.2" textLength="15.57" lengthAdjust="spacingAndGlyphs">1.9</text>
<text x="307.23" y="136.80" font-size="15" textLength="26.30" lengthAdjust="spacingAndGlyphs">μ/|t|</text>
<text x="307.23" y="365.00" font-size="15" textLength="26.30" lengthAdjust="spacingAndGlyphs">μ/|t|</text>
<text x="292.41" y="86.60" font-size="16" textLength="22.58" lengthAdjust="spacingAndGlyphs">(a')</text>
<text x="272.11" y="290.90" font-size="16" textLength="22.47" lengthAdjust="spacingAndGlyphs">(b')</text>
<text transform="rotate(-90)" x="-93.55" y="223.20" font-size="15" textLength="40.54" lengthAdjust="spacingAndGlyphs">g(μ)/g</text>
<text transform="rotate(-90)" x="-319.55" y="223.20" font-size="15" textLength="40.54" lengthAdjust="spacingAndGlyphs">g(μ)/g</text>
<text transform="rotate(-90)" x="-52.35" y="226.80" font-size="9.7" textLength="5.00" lengthAdjust="spacingAndGlyphs">0</text>
<text transform="rotate(-90)" x="-278.68" y="226.80" font-size="9.7" textLength="5.35" lengthAdjust="spacingAndGlyphs">0</text>
<rect x="173.05" y="112" width="2.78" height="3" fill="#fff"/>
<rect x="177.15" y="112" width="2.66" height="3" fill="#fff"/>
<rect x="173.05" y="135" width="2.78" height="3" fill="#fff"/>
<rect x="177.15" y="135" width="2.66" height="3" fill="#fff"/>
<rect x="173.07" y="338" width="2.72" height="3" fill="#fff"/>
<rect x="177.08" y="338" width="2.61" height="3" fill="#fff"/>
<rect x="173.07" y="361" width="2.72" height="3" fill="#fff"/>
<rect x="177.08" y="361" width="2.61" height="3" fill="#fff"/>
<rect x="233.40" y="79" width="2.14" height="3" fill="#fff"/>
<rect x="236.56" y="79" width="2.05" height="3" fill="#fff"/>
<rect x="233.40" y="104" width="2.14" height="3" fill="#fff"/>
<rect x="236.56" y="104" width="2.05" height="3" fill="#fff"/>
<rect x="233.40" y="270" width="2.14" height="3" fill="#fff"/>
<rect x="236.57" y="270" width="2.05" height="3" fill="#fff"/>
<rect x="233.40" y="291" width="2.14" height="3" fill="#fff"/>
<rect x="236.56" y="291" width="2.05" height="3" fill="#fff"/>
<rect x="233.40" y="311" width="2.15" height="3" fill="#fff"/>
<rect x="236.57" y="311" width="2.06" height="3" fill="#fff"/>
<rect x="233.40" y="332" width="2.14" height="3" fill="#fff"/>
<rect x="236.56" y="332" width="2.05" height="3" fill="#fff"/>
<rect x="284.54" y="117" width="2.14" height="3" fill="#fff"/>
<rect x="287.71" y="117" width="2.06" height="3" fill="#fff"/>
<rect x="284.54" y="346" width="2.14" height="3" fill="#fff"/>
<rect x="287.71" y="346" width="2.06" height="3" fill="#fff"/>
<rect x="314.04" y="117" width="2.14" height="3" fill="#fff"/>
<rect x="317.21" y="117" width="2.06" height="3" fill="#fff"/>
<rect x="314.04" y="346" width="2.14" height="3" fill="#fff"/>
<rect x="317.21" y="346" width="2.06" height="3" fill="#fff"/>
<rect x="343.52" y="117" width="2.14" height="3" fill="#fff"/>
<rect x="346.68" y="117" width="2.06" height="3" fill="#fff"/>
<rect x="343.52" y="346" width="2.14" height="3" fill="#fff"/>
<rect x="346.68" y="346" width="2.06" height="3" fill="#fff"/>
<rect x="373.01" y="117" width="2.14" height="3" fill="#fff"/>
<rect x="376.18" y="117" width="2.06" height="3" fill="#fff"/>
<rect x="373.01" y="346" width="2.14" height="3" fill="#fff"/>
<rect x="376.18" y="346" width="2.06" height="3" fill="#fff"/>
</svg></body></html>
